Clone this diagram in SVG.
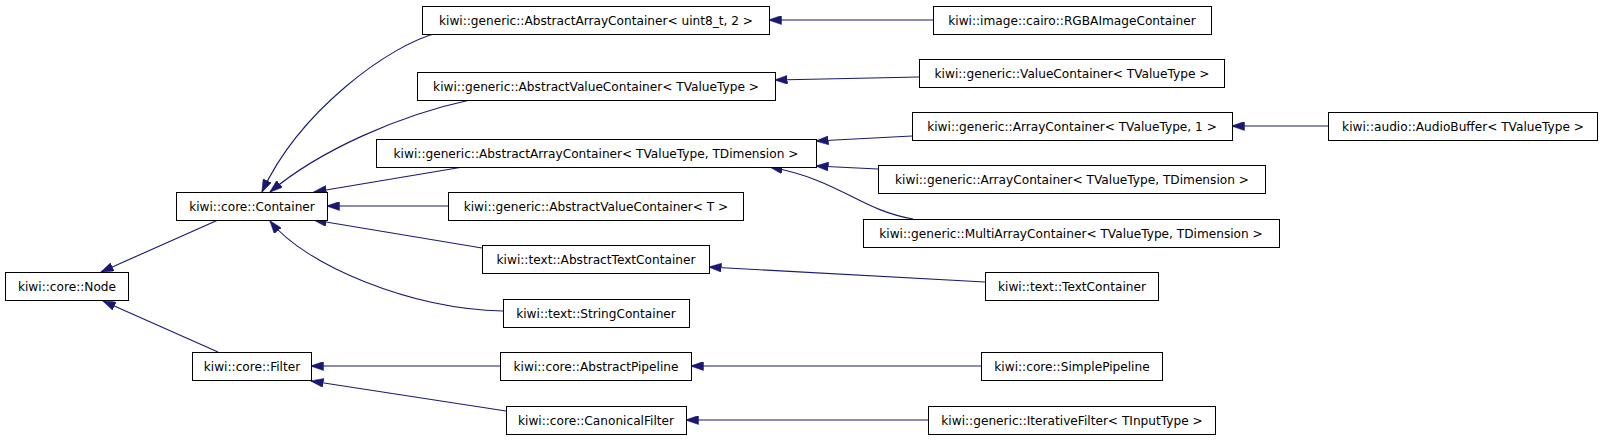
<svg xmlns="http://www.w3.org/2000/svg" width="1603" height="440" viewBox="0 0 1603 440">
<style>
.n rect{fill:#fff;stroke:#000;stroke-width:1}
.n text{font-family:"DejaVu Sans",sans-serif;font-size:12.15px;fill:#000;text-anchor:middle}
.e path{fill:none;stroke:#191970;stroke-width:1.1;marker-end:url(#ah)}
</style>
<defs>
<marker id="ah" viewBox="0 0 13 9" refX="12.5" refY="4.5" markerWidth="13" markerHeight="9" markerUnits="userSpaceOnUse" orient="auto">
<path d="M0,0 L13,4.5 L0,9 z" fill="#191970" stroke="#191970" stroke-width="0.5"/>
</marker>
</defs>
<rect width="1603" height="440" fill="#fff"/>
<g class="e" id="connectors">
<path d="M218,220 L101,272"/>
<path d="M218,352 L103,301"/>
<path d="M437,33 C390,45 300,110 262,192"/>
<path d="M470,100 C400,115 320,150 270,192"/>
<path d="M463,167 L314,192"/>
<path d="M448,206 L327,206"/>
<path d="M482,248 L314,220"/>
<path d="M503,311 C410,309 305,265 270,221"/>
<path d="M500,366 L311,366"/>
<path d="M506,411 L311,381"/>
<path d="M933,20 L769,20"/>
<path d="M919,77 L775,80"/>
<path d="M912,136 L816,141"/>
<path d="M878,169 L816,166"/>
<path d="M913,219 C860,210 840,180 770,167"/>
<path d="M1328,126 L1232,126"/>
<path d="M985,282 L709,267"/>
<path d="M981,366 L691,366"/>
<path d="M928,420 L686,420"/>
</g>
<g class="n" id="node_Node"><rect x="5.5" y="272.5" width="123" height="28"/><text x="67" y="290.5">kiwi::core::Node</text></g>
<g class="n" id="node_Container"><rect x="176.5" y="192.5" width="151" height="28"/><text x="252" y="210.5">kiwi::core::Container</text></g>
<g class="n" id="node_Filter"><rect x="192.5" y="352.5" width="119" height="28"/><text x="252" y="370.5">kiwi::core::Filter</text></g>
<g class="n" id="node_AAC_uint8"><rect x="422.5" y="6.5" width="347" height="28"/><text x="596" y="24.5">kiwi::generic::AbstractArrayContainer&lt; uint8_t, 2 &gt;</text></g>
<g class="n" id="node_AVC_TValueType"><rect x="417.5" y="72.5" width="358" height="28"/><text x="596" y="90.5">kiwi::generic::AbstractValueContainer&lt; TValueType &gt;</text></g>
<g class="n" id="node_AAC_TD"><rect x="376.5" y="139.5" width="440" height="28"/><text x="596" y="157.5">kiwi::generic::AbstractArrayContainer&lt; TValueType, TDimension &gt;</text></g>
<g class="n" id="node_AVC_T"><rect x="448.5" y="192.5" width="295" height="28"/><text x="596" y="210.5">kiwi::generic::AbstractValueContainer&lt; T &gt;</text></g>
<g class="n" id="node_AbstractTextContainer"><rect x="482.5" y="245.5" width="227" height="28"/><text x="596" y="263.5">kiwi::text::AbstractTextContainer</text></g>
<g class="n" id="node_StringContainer"><rect x="503.5" y="299.5" width="186" height="28"/><text x="596" y="317.5">kiwi::text::StringContainer</text></g>
<g class="n" id="node_AbstractPipeline"><rect x="500.5" y="352.5" width="191" height="28"/><text x="596" y="370.5">kiwi::core::AbstractPipeline</text></g>
<g class="n" id="node_CanonicalFilter"><rect x="506.5" y="406.5" width="180" height="28"/><text x="596" y="424.5">kiwi::core::CanonicalFilter</text></g>
<g class="n" id="node_RGBA"><rect x="933.5" y="6.5" width="278" height="28"/><text x="1072" y="24.5">kiwi::image::cairo::RGBAImageContainer</text></g>
<g class="n" id="node_ValueContainer"><rect x="919.5" y="59.5" width="305" height="28"/><text x="1072" y="77.5">kiwi::generic::ValueContainer&lt; TValueType &gt;</text></g>
<g class="n" id="node_AC1"><rect x="912.5" y="112.5" width="320" height="28"/><text x="1072" y="130.5">kiwi::generic::ArrayContainer&lt; TValueType, 1 &gt;</text></g>
<g class="n" id="node_ACTD"><rect x="878.5" y="165.5" width="387" height="28"/><text x="1072" y="183.5">kiwi::generic::ArrayContainer&lt; TValueType, TDimension &gt;</text></g>
<g class="n" id="node_Multi"><rect x="863.5" y="219.5" width="416" height="28"/><text x="1071" y="237.5">kiwi::generic::MultiArrayContainer&lt; TValueType, TDimension &gt;</text></g>
<g class="n" id="node_AudioBuffer"><rect x="1328.5" y="112.5" width="269" height="28"/><text x="1463" y="130.5">kiwi::audio::AudioBuffer&lt; TValueType &gt;</text></g>
<g class="n" id="node_TextContainer"><rect x="985.5" y="272.5" width="173" height="28"/><text x="1072" y="290.5">kiwi::text::TextContainer</text></g>
<g class="n" id="node_SimplePipeline"><rect x="981.5" y="352.5" width="181" height="28"/><text x="1072" y="370.5">kiwi::core::SimplePipeline</text></g>
<g class="n" id="node_IterativeFilter"><rect x="928.5" y="406.5" width="287" height="28"/><text x="1072" y="424.5">kiwi::generic::IterativeFilter&lt; TInputType &gt;</text></g>
</svg>
